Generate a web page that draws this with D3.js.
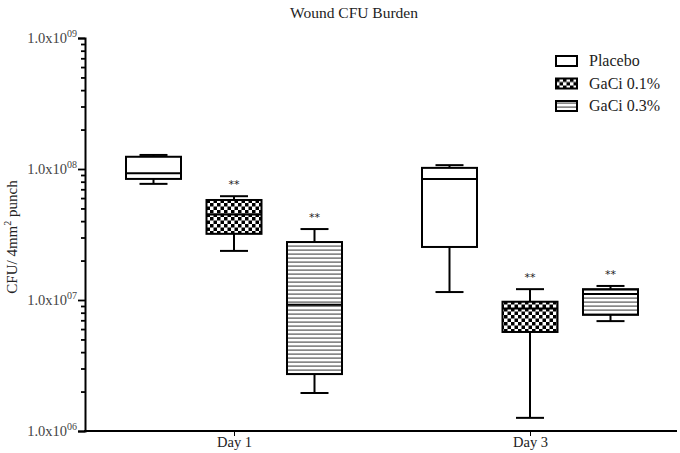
<!DOCTYPE html>
<html>
<head>
<meta charset="utf-8">
<script src="https://cdnjs.cloudflare.com/ajax/libs/d3/7.8.5/d3.min.js"></script>
<style>
body{margin:0;background:#fff;}
svg text{font-family:"Liberation Serif","Times New Roman",serif;fill:#222;}
</style>
</head>
<body>
<svg id="chart" width="680" height="453"></svg>
<script>
// datos: [min, q1, mediana, q3, max] por dia
var days = ["Day 1", "Day 3"];
var groups = ["Placebo", "GaCi 0.1%", "GaCi 0.3%"];
var placebo = [[7.7e7, 8.4e7, 9.3e7, 1.24e8, 1.28e8], [1.15e7, 2.54e7, 8.4e7, 1.02e8, 1.07e8]];
var gaci01 = [[2.37e7, 3.2e7, 4.5e7, 5.8e7, 6.2e7], [1.26e6, 5.7e6, 8.6e6, 9.7e6, 1.21e7]];
var gaci03 = [[1.95e6, 2.72e6, 9.2e6, 2.77e7, 3.48e7], [6.9e6, 7.7e6, 1.11e7, 1.21e7, 1.28e7]];
var signif = [["", "**", "**"], ["", "**", "**"]];
var yTicks = [1e6, 1e7, 1e8, 1e9];
var yExp = ["06", "07", "08", "09"];

var series = [placebo, gaci01, gaci03];
var fills = ["#fff", "url(#checker)", "url(#stripes)"];

var svg = d3.select("#chart");

/* patrones */
var defs = svg.append("defs");
var chk = defs.append("pattern").attr("id", "checker")
	.attr("patternUnits", "userSpaceOnUse").attr("width", 7).attr("height", 7);
chk.append("rect").attr("width", 7).attr("height", 7).attr("fill", "#fff");
chk.append("rect").attr("width", 3.5).attr("height", 3.5).attr("fill", "#000");
chk.append("rect").attr("x", 3.5).attr("y", 3.5).attr("width", 3.5).attr("height", 3.5).attr("fill", "#000");

var str = defs.append("pattern").attr("id", "stripes")
	.attr("patternUnits", "userSpaceOnUse").attr("width", 4).attr("height", 4);
str.append("rect").attr("width", 4).attr("height", 4).attr("fill", "#fff");
str.append("rect").attr("y", 1.5).attr("width", 4).attr("height", 1.2).attr("fill", "#555");

/* escalas */
var y = d3.scaleLog().domain([1e6, 1e9]).range([431, 38]);
var x = d3.scalePoint().domain(days).range([234, 530]);
var xo = d3.scalePoint().domain(groups).range([-80.5, 80.5]);
var boxW = 55, capW = 28;

/* eje y con menores */
var minor = [];
for (var e = 6; e < 9; e++) {
	for (var m = 2; m <= 9; m++) minor.push(m * Math.pow(10, e));
}
var gy = svg.append("g").attr("transform", "translate(85,0)");
gy.call(d3.axisLeft(y).tickValues(minor).tickSize(4).tickFormat(""));
gy.call(function(g){ g.selectAll(".domain").remove(); });
var gyM = svg.append("g").attr("transform", "translate(85,0)")
	.call(d3.axisLeft(y).tickValues(yTicks).tickSize(7).tickFormat(""));
gyM.select(".domain").attr("stroke-width", 2);
svg.selectAll(".tick line").attr("stroke", "#000").attr("stroke-width", 1.8);

var lab = svg.append("g").selectAll("text").data(yTicks).enter().append("text")
	.attr("x", 77).attr("y", function(d){ return y(d) + 5; })
	.attr("text-anchor", "end").style("font-size", "14.5px").style("fill", "#444");
lab.append("tspan").text("1.0x10");
lab.append("tspan").attr("dy", -6).style("font-size", "10px")
	.text(function(d, i){ return yExp[i]; });

/* eje x */
svg.append("line").attr("x1", 84).attr("x2", 677).attr("y1", 431).attr("y2", 431)
	.attr("stroke", "#000").attr("stroke-width", 2);
var gx = svg.append("g").attr("transform", "translate(0,431)")
	.call(d3.axisBottom(x).tickSize(5).tickPadding(1));
gx.select(".domain").remove();
gx.selectAll("text").style("font-size", "14.5px").style("font-family", "Liberation Serif").attr("fill", "#222");

/* cajas */
days.forEach(function(day, di){
	groups.forEach(function(gr, gi){
		var d = series[gi][di];
		var cx = x(day) + xo(gr);
		var g = svg.append("g").attr("stroke", "#000").attr("stroke-width", 2);
		g.append("line").attr("x1", cx).attr("x2", cx).attr("y1", y(d[0])).attr("y2", y(d[1]));
		g.append("line").attr("x1", cx).attr("x2", cx).attr("y1", y(d[3])).attr("y2", y(d[4]));
		g.append("line").attr("x1", cx - capW/2).attr("x2", cx + capW/2).attr("y1", y(d[0])).attr("y2", y(d[0]));
		g.append("line").attr("x1", cx - capW/2).attr("x2", cx + capW/2).attr("y1", y(d[4])).attr("y2", y(d[4]));
		g.append("rect").attr("x", cx - boxW/2).attr("y", y(d[3]))
			.attr("width", boxW).attr("height", y(d[1]) - y(d[3])).attr("fill", fills[gi]);
		g.append("line").attr("x1", cx - boxW/2).attr("x2", cx + boxW/2).attr("y1", y(d[2])).attr("y2", y(d[2]));
		if (signif[di][gi]) {
			svg.append("text").attr("x", cx).attr("y", y(d[4]) - 8)
				.attr("text-anchor", "middle").style("font-family", "DejaVu Sans").style("font-size", "11px")
				.text(signif[di][gi]);
		}
	});
});

/* titulos */
svg.append("text").attr("x", 354).attr("y", 18).attr("text-anchor", "middle")
	.style("font-size", "15.5px").text("Wound CFU Burden");
var yl = svg.append("text").attr("transform", "translate(17,237) rotate(-90)")
	.attr("text-anchor", "middle").style("font-size", "15px");
yl.append("tspan").text("CFU/ 4mm");
yl.append("tspan").attr("dy", -6).style("font-size", "10px").text("2");
yl.append("tspan").attr("dy", 6).text(" punch");

/* leyenda */
var leg = svg.append("g").selectAll("g").data(groups).enter().append("g")
	.attr("transform", function(d, i){ return "translate(556," + (56 + i * 22.5) + ")"; });
leg.append("rect").attr("width", 21).attr("height", 10).attr("fill", function(d, i){ return fills[i]; })
	.attr("stroke", "#000").attr("stroke-width", 2);
leg.append("text").attr("x", 33).attr("y", 10).style("font-size", "16px").text(function(d){ return d; });
</script>
</body>
</html>
